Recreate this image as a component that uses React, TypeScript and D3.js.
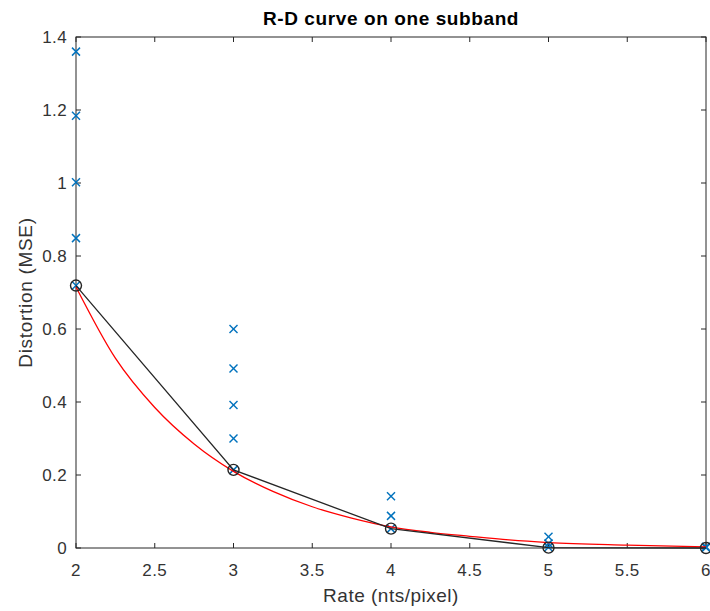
import React from "react";
import * as d3 from "d3";

const W = 710;
const H = 611;
const margin = { left: 76, right: 4, top: 37, bottom: 63 };

const xTicks = [2, 2.5, 3, 3.5, 4, 4.5, 5, 5.5, 6];
const yTicks = [0, 0.2, 0.4, 0.6, 0.8, 1, 1.2, 1.4];

// candidate (rate, distortion) points (blue crosses)
const crossRates = [2, 2, 2, 2, 2, 3, 3, 3, 3, 3, 4, 4, 4, 5, 5, 5, 6, 6];
const crossDist = [1.36, 1.184, 1.002, 0.849, 0.719, 0.6, 0.492, 0.392, 0.3, 0.214, 0.142, 0.088, 0.053, 0.031, 0.012, 0.002, 0.003, 0.001];

// optimal points (black circles + line)
const optRates = [2, 3, 4, 5, 6];
const optDist = [0.719, 0.214, 0.053, 0.001, 0.0];

// fitted curve (red)
const fitRates = [2, 2.25, 2.5, 2.75, 3, 3.25, 3.5, 3.75, 4, 4.25, 4.5, 4.75, 5, 5.5, 6];
const fitDist = [0.715, 0.52, 0.385, 0.285, 0.21, 0.155, 0.113, 0.082, 0.058, 0.043, 0.032, 0.022, 0.015, 0.008, 0.003];

const FONT = "'Liberation Sans', Arial, Helvetica, sans-serif";

export default function App() {
  const x = d3.scaleLinear().domain([2, 6]).range([margin.left, W - margin.right]);
  const y = d3.scaleLinear().domain([0, 1.4]).range([H - margin.bottom, margin.top]);
  const x0 = x.range()[0], x1 = x.range()[1];
  const y0 = y.range()[0], y1 = y.range()[1];

  const fitLine = d3
    .line<number>()
    .x((_, i) => x(fitRates[i]))
    .y((d) => y(d))
    .curve(d3.curveMonotoneX)(fitDist);
  const optLine = d3
    .line<number>()
    .x((_, i) => x(optRates[i]))
    .y((d) => y(d))(optDist);

  const tl = 5;
  const cs = 4;
  return (
    <svg width={W} height={H} style={{ position: "absolute", left: 0, top: 0, background: "#fff" }}>
      <rect x={0} y={0} width={W} height={H} fill="#fff" />
      <text x={(x0 + x1) / 2} y={25} textAnchor="middle" fontFamily={FONT} fontSize={19} fontWeight="bold" letterSpacing={0.6} fill="#000">
        R-D curve on one subband
      </text>
      {/* ticks */}
      {xTicks.map((t) => (
        <g key={"x" + t}>
          <line x1={x(t)} x2={x(t)} y1={y0} y2={y0 - tl} stroke="#262626" />
          <line x1={x(t)} x2={x(t)} y1={y1} y2={y1 + tl} stroke="#262626" />
          <text x={x(t)} y={y0 + 28} textAnchor="middle" fontFamily={FONT} fontSize={17} letterSpacing={0.4} fill="#333">
            {t}
          </text>
        </g>
      ))}
      {yTicks.map((t) => (
        <g key={"y" + t}>
          <line x1={x0} x2={x0 + tl} y1={y(t)} y2={y(t)} stroke="#262626" />
          <line x1={x1} x2={x1 - tl} y1={y(t)} y2={y(t)} stroke="#262626" />
          <text x={x0 - 9} y={y(t) + 6} textAnchor="end" fontFamily={FONT} fontSize={17} letterSpacing={0.4} fill="#333">
            {t}
          </text>
        </g>
      ))}
      <rect x={x0} y={y1} width={x1 - x0} height={y0 - y1} fill="none" stroke="#262626" strokeWidth={1} />
      <text x={(x0 + x1) / 2} y={602} textAnchor="middle" fontFamily={FONT} fontSize={19} letterSpacing={0.5} fill="#333">
        Rate (nts/pixel)
      </text>
      <text
        transform={`translate(32,${(y0 + y1) / 2}) rotate(-90)`}
        textAnchor="middle"
        fontFamily={FONT}
        fontSize={19}
        letterSpacing={0.7}
        fill="#333"
      >
        Distortion (MSE)
      </text>
      {/* crosses */}
      {crossDist.map((d, i) => {
        const cx = x(crossRates[i]);
        const cy = y(d);
        return (
          <g key={"c" + i} stroke="#0072BD" strokeWidth={1.5}>
            <line x1={cx - cs} x2={cx + cs} y1={cy - cs} y2={cy + cs} />
            <line x1={cx - cs} x2={cx + cs} y1={cy + cs} y2={cy - cs} />
          </g>
        );
      })}
      <path d={fitLine ?? ""} fill="none" stroke="#FF0000" strokeWidth={1.3} />
      <path d={optLine ?? ""} fill="none" stroke="#262626" strokeWidth={1.3} />
      {optDist.map((d, i) => (
        <circle key={"o" + i} cx={x(optRates[i])} cy={y(d)} r={5.5} fill="none" stroke="#262626" strokeWidth={1.4} />
      ))}
    </svg>
  );
}
